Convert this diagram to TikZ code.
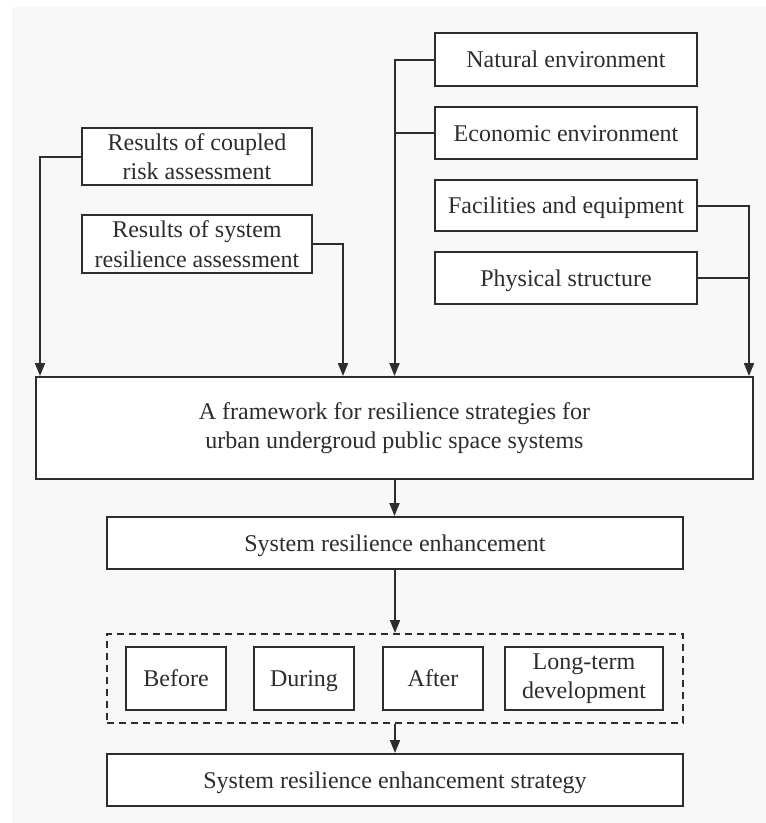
\documentclass[tikz,border=0pt]{standalone}
\usepackage{fontspec}
\setmainfont{Liberation Serif}
\newfontfamily\timesfont{Liberation Serif}
\usetikzlibrary{arrows.meta}
\definecolor{Ink}{RGB}{45, 45, 45}
\definecolor{Paper}{RGB}{248, 248, 248}
\tikzset{
    scatola/.style = {draw=Ink, fill=white, line width=2pt, align=center, text=Ink, inner sep=0pt,
                      font=\timesfont\fontsize{24}{29.5}\selectfont},
    riga/.style = {text height=20pt, text depth=4pt},
    gruppo/.style = {draw=Ink, line width=2pt, dash pattern=on 7pt off 5pt, inner sep=0pt},
    freccia/.style = {draw=Ink, line width=2pt, arrows = {-Triangle[length=13pt, width=10pt]}},
    linea/.style = {draw=Ink, line width=2pt}
}
\begin{document}
\begin{tikzpicture}[x=1pt, y=-1pt]
    %%% Background
    \useasboundingbox (0,0) rectangle (766,823);
    \fill[white] (0,0) rectangle (766,823);
    \fill[Paper] (12,7) rectangle (766,823);

    %%% Inputs
    % environment and structure
    \node[scatola, riga, minimum width=262pt, minimum height=53pt] (natural)    at (566,59.5) {Natural environment};
    \node[scatola, riga, minimum width=262pt, minimum height=52pt] (economic)   at (566,133)  {Economic environment};
    \node[scatola, riga, minimum width=262pt, minimum height=51pt] (facilities) at (566,205.5) {Facilities and equipment};
    \node[scatola, riga, minimum width=262pt, minimum height=52pt] (physical)   at (566,278)  {Physical structure};
    % assessments
    \node[scatola, minimum width=230pt, minimum height=57pt] (coupled)    at (197,156.5) {Results of coupled\\risk assessment};
    \node[scatola, minimum width=230pt, minimum height=58pt] (sysres)     at (197,244)   {Results of system\\resilience assessment};

    %%% Framework
    \node[scatola, minimum width=717pt, minimum height=102pt] (framework) at (394.5,428)
        {A framework for resilience strategies for\\urban undergroud public space systems};
    \node[scatola, riga, minimum width=576pt, minimum height=52pt] (enhancement) at (395,543) {System resilience enhancement};

    % phases
    \node[gruppo, minimum width=576pt, minimum height=89pt] (phases) at (395,678.5) {};
    \node[scatola, riga, minimum width=100pt, minimum height=63pt] (before)   at (176,678.5) {Before};
    \node[scatola, riga, minimum width=100pt, minimum height=63pt] (during)   at (304,678.5) {During};
    \node[scatola, riga, minimum width=100pt, minimum height=63pt] (after)    at (433,678.5) {After};
    \node[scatola, minimum width=158pt, minimum height=63pt] (longterm) at (584,678.5) {Long-term\\development};

    \node[scatola, riga, minimum width=576pt, minimum height=52pt] (strategy) at (395,780) {System resilience enhancement strategy};

    %%% Connectors
    \draw[freccia] (coupled.west) -| ([xshift=5pt]framework.north west);
    \draw[freccia] (sysres.east) -| ([xshift=-51.5pt]framework.north);
    \draw[freccia] (natural.west) -| (framework.north);
    \draw[linea] (economic.west) -- (economic.west -| framework.north);
    \draw[freccia] (facilities.east) -| ([xshift=-5pt]framework.north east);
    \draw[linea] (physical.east) -- ([xshift=-5pt]physical.east -| framework.north east);

    \draw[freccia] (framework.south) -- (framework.south |- enhancement.north);
    \draw[freccia] (enhancement.south) -- (enhancement.south |- phases.north);
    \draw[freccia] (phases.south) -- (phases.south |- strategy.north);
\end{tikzpicture}
\end{document}
